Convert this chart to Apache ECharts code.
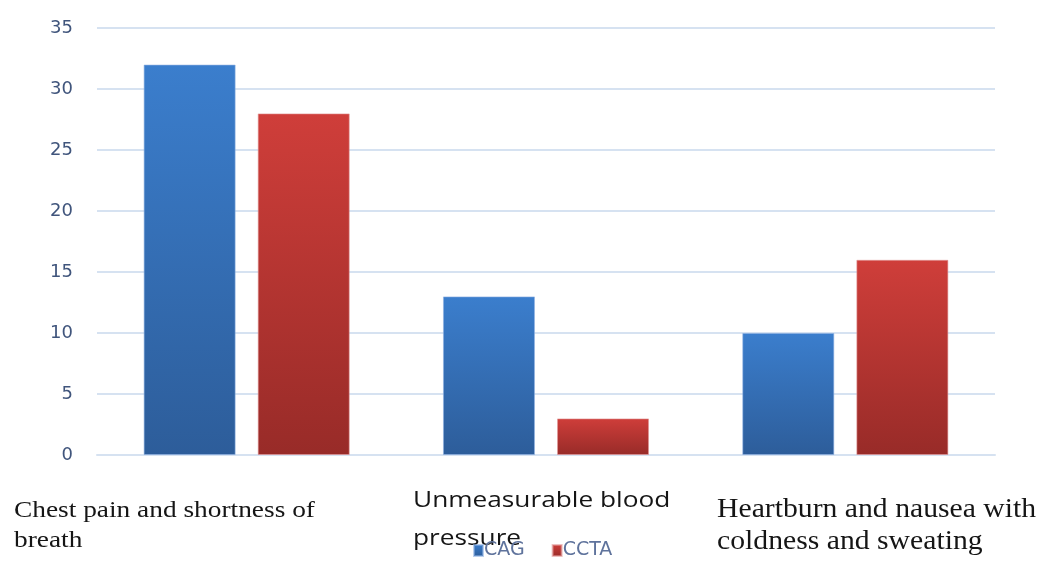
<!DOCTYPE html>
<html>
<head>
<meta charset="utf-8">
<script src="https://cdn.jsdelivr.net/npm/echarts@6/dist/echarts.min.js"></script>
<style>
  html, body { margin: 0; padding: 0; background: #ffffff; }
  #chart { width: 1039px; height: 563px; }
</style>
</head>
<body>
<div id="chart"></div>
<script>
// Symptom groups and counts per imaging method
const categories = [
  'Chest pain and shortness of\nbreath',
  'Unmeasurable blood\npressure',
  'Heartburn and nausea with\ncoldness and sweating'
];
const seriesNames = ['CAG', 'CCTA'];
const cagValues = [32, 13, 10];
const cctaValues = [28, 3, 16];
const yTicks = [0, 5, 10, 15, 20, 25, 30, 35];

const chart = echarts.init(document.getElementById('chart'), null, { renderer: 'canvas' });

function vGrad(top, bottom) {
  return new echarts.graphic.LinearGradient(0, 0, 0, 1, [
    { offset: 0, color: top },
    { offset: 1, color: bottom }
  ]);
}

const SERIF = '"Liberation Serif", "Times New Roman", serif';
const SANS = '"Open Sans", "Liberation Sans", sans-serif';

// Category captions sit below the plot, each in its own typeface and width
const labelStyles = [
  { x: 14, y: 496, font: SERIF, size: 24, lh: 30, sx: 1.14 },
  { x: 413, y: 482, font: SANS, size: 21, lh: 38, sx: 1.25 },
  { x: 717, y: 494, font: SERIF, size: 27, lh: 32, sx: 1.10 }
];

const option = {
  backgroundColor: '#ffffff',
  animation: false,
  grid: { left: 97, right: 44, top: 28, bottom: 108, containLabel: false },
  legend: {
    data: seriesNames,
    top: 541,
    left: 473,
    padding: 0,
    icon: 'rect',
    itemWidth: 9,
    itemHeight: 11,
    itemGap: 27,
    textStyle: {
      color: '#5f739c',
      fontSize: 19,
      fontFamily: '"DejaVu Sans", sans-serif',
      padding: [0, 0, 0, -4]
    }
  },
  xAxis: {
    type: 'category',
    data: categories,
    axisLine: { show: true, lineStyle: { color: '#d6e2f1', width: 2 } },
    axisTick: { show: false },
    axisLabel: { show: false }
  },
  yAxis: {
    type: 'value',
    min: yTicks[0],
    max: yTicks[yTicks.length - 1],
    interval: 5,
    axisLine: { show: false },
    axisTick: { show: false },
    splitLine: { lineStyle: { color: '#d6e2f1', width: 2 } },
    axisLabel: {
      margin: 24,
      color: '#40557c',
      fontSize: 18,
      fontFamily: '"DejaVu Sans", sans-serif'
    }
  },
  series: [
    {
      name: seriesNames[0],
      type: 'bar',
      data: cagValues,
      barWidth: 92,
      barGap: '24%',
      itemStyle: {
        color: vGrad('#3b7ecd', '#2d5d9a'),
        borderColor: 'rgba(140,175,225,0.6)',
        borderWidth: 1
      }
    },
    {
      name: seriesNames[1],
      type: 'bar',
      data: cctaValues,
      barWidth: 92,
      itemStyle: {
        color: vGrad('#cf3e3a', '#982b28'),
        borderColor: 'rgba(225,150,150,0.6)',
        borderWidth: 1
      }
    }
  ],
  graphic: categories.map(function (c, i) {
    const s = labelStyles[i];
    return {
      type: 'text',
      x: s.x,
      y: s.y,
      scaleX: s.sx,
      z: 0,
      style: {
        text: c,
        fill: '#151515',
        font: s.size + 'px ' + s.font,
        lineHeight: s.lh,
        verticalAlign: 'top',
        align: 'left'
      }
    };
  })
};

chart.setOption(option);
</script>
</body>
</html>
